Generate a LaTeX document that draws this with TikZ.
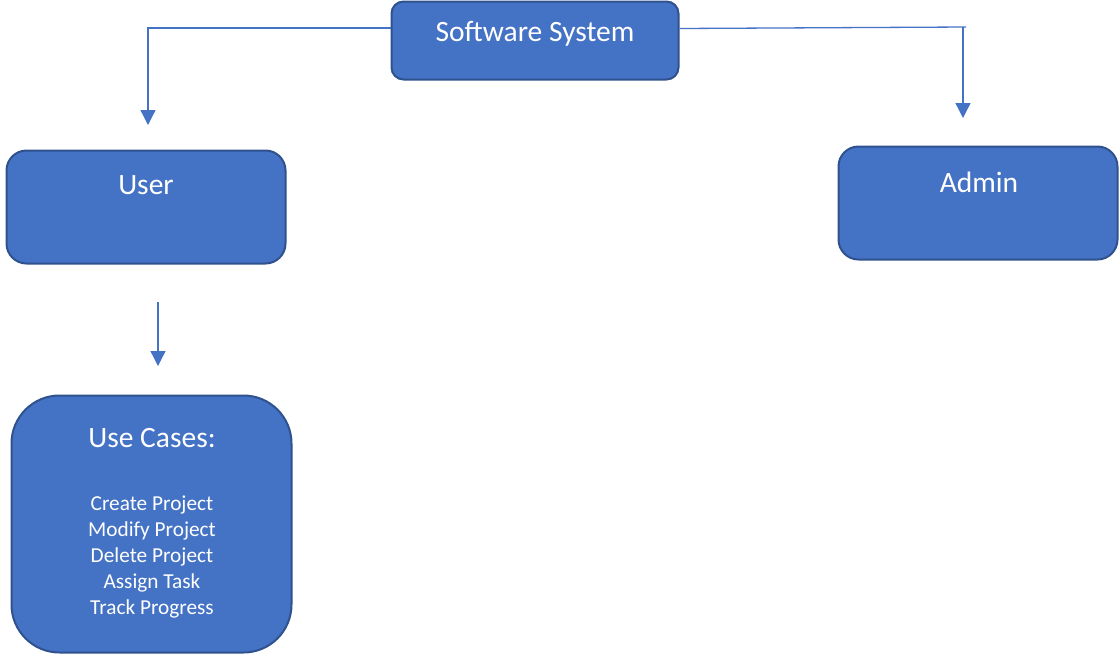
\documentclass[tikz,border=0pt]{standalone}
\usepackage{fontspec}
\setmainfont{Carlito}
\usetikzlibrary{arrows.meta}
\definecolor{boxfill}{HTML}{4472C4}
\definecolor{boxline}{HTML}{2F528F}
\definecolor{connline}{HTML}{4472C4}
\begin{document}
\begin{tikzpicture}[x=1pt,y=-1pt,
  box/.style={draw=boxline,fill=boxfill,line width=2pt,rounded corners=#1,inner sep=0pt},
  box/.default=14pt,
  lbl/.style={text=white,inner sep=0pt,font=\fontsize{29.5}{34}\selectfont},
  small/.style={text=white,inner sep=0pt,align=center,font=\fontsize{21.3}{26}\selectfont},
  conn/.style={draw=connline,line width=1.3pt,-{Triangle[width=15pt,length=15pt]}}]
\useasboundingbox (0,0) rectangle (1119,654);
% boxes
\node[box=12pt,minimum width=287pt,minimum height=78pt] (sys) at (535,40.5) {};
\node[lbl] (syslbl) at (535,34) {Software System};
\node[box=20pt,minimum width=279pt,minimum height=113pt] (user) at (146,207) {};
\node[lbl] (userlbl) at (146,185) {User};
\node[box=20pt,minimum width=279pt,minimum height=113pt] (admin) at (978,203) {};
\node[lbl] (adminlbl) at (979,182) {Admin};
\node[box=48pt,minimum width=280pt,minimum height=257pt] (uc) at (151.5,524) {};
\node[lbl] (uclbl) at (152,438) {Use Cases:};
\node[small] (uclist) at (152,557) {Create Project\\Modify Project\\Delete Project\\Assign Task\\Track Progress};
% connectors
\coordinate (lt) at (148,125);
\coordinate (rt) at (963,118);
\coordinate (re) at (966,27);
\coordinate (ds) at (158,302);
\coordinate (de) at (158,366);
\draw[conn] ([yshift=12.5pt]sys.west) -| (lt);
\draw[draw=connline,line width=1.3pt] ([yshift=12pt]sys.east) -- (re);
\draw[conn] (rt |- re) -- (rt);
\draw[conn] (ds) -- (de);
\end{tikzpicture}
\end{document}
